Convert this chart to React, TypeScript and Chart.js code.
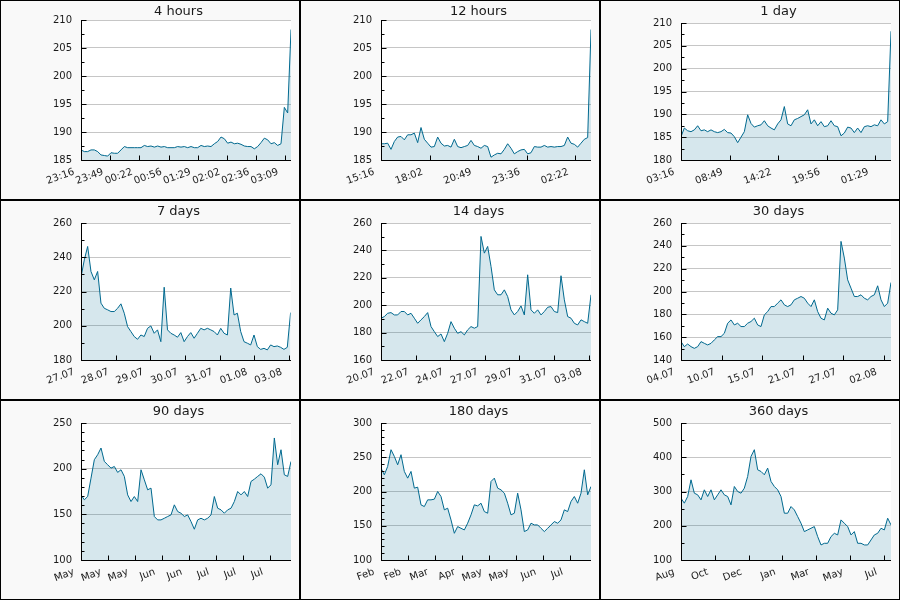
import React, { useEffect, useRef } from 'react';
import { Chart, registerables } from 'chart.js';

Chart.register(...registerables);

// ---------- data ----------
const titles = ['4 hours', '12 hours', '1 day', '7 days', '14 days', '30 days', '90 days', '180 days', '360 days'];

const values4h = [
  186.8, 186.5, 186.5, 186.8, 186.8, 186.5, 185.9, 185.8, 185.7, 186.3,
  186.2, 186.2, 186.8, 187.4, 187.2, 187.2, 187.2, 187.2, 187.2, 187.6,
  187.4, 187.5, 187.3, 187.5, 187.3, 187.4, 187.2, 187.2, 187.2, 187.4,
  187.3, 187.4, 187.2, 187.4, 187.2, 187.2, 187.6, 187.4, 187.5, 187.4,
  187.9, 188.3, 189.1, 188.8, 188.0, 188.2, 187.9, 188.0, 187.8, 187.5,
  187.4, 187.4, 187.0, 187.4, 188.1, 188.9, 188.6, 187.9, 188.1, 187.6,
  187.9, 194.4, 193.4, 208.3,
];
const values12h = [
  187.9, 187.9, 188.0, 186.9, 188.3, 189.1, 189.2, 188.6, 189.5, 189.5,
  189.8, 188.1, 190.8, 188.7, 188.0, 187.3, 187.4, 189.1, 188.0, 187.5,
  187.6, 187.3, 188.7, 187.4, 187.2, 187.4, 187.6, 188.5, 187.6, 187.4,
  187.1, 187.6, 187.4, 185.5, 185.9, 186.2, 186.1, 186.9, 187.9, 187.1,
  186.1, 186.5, 186.8, 186.9, 186.1, 186.3, 187.4, 187.3, 187.3, 187.6,
  187.3, 187.4, 187.3, 187.4, 187.4, 187.6, 189.1, 188.0, 187.8, 187.3,
  188.0, 188.7, 189.0, 208.3,
];
const values1d = [
  185.1, 187.0, 186.4, 186.2, 186.6, 187.5, 186.4, 186.6, 186.2, 186.6,
  186.2, 186.0, 186.2, 186.7, 186.0, 185.9, 185.1, 183.8, 185.0, 186.2,
  189.9, 188.0, 187.2, 187.5, 187.7, 188.6, 187.5, 187.0, 186.6, 187.9,
  188.8, 191.7, 187.9, 187.5, 188.8, 189.1, 189.5, 189.9, 191.0, 187.9,
  188.8, 187.5, 188.4, 187.3, 187.5, 188.6, 187.5, 187.3, 185.3, 185.9,
  187.2, 187.0, 186.0, 187.0, 186.0, 187.3, 187.5, 187.3, 187.7, 187.5,
  188.8, 187.9, 188.4, 208.2,
];
const values7d = [
  228.4, 238.5, 246.3, 231.7, 226.8, 231.7, 213.2, 210.2, 209.3, 208.3,
  208.3, 210.2, 212.8, 207.3, 199.5, 196.6, 193.7, 192.1, 194.6, 193.7,
  198.5, 199.9, 195.6, 197.6, 190.7, 222.5, 197.6, 195.6, 194.6, 193.3,
  196.0, 190.7, 193.7, 196.0, 192.7, 195.6, 198.5, 197.6, 198.5, 197.6,
  196.6, 194.6, 198.5, 195.6, 194.6, 222.0, 206.3, 207.3, 196.6, 190.7,
  189.8, 188.8, 194.6, 187.8, 186.2, 186.8, 185.9, 188.8, 187.8, 188.2,
  187.4, 186.2, 187.4, 207.7,
];
const values14d = [
  190.5, 191.7, 194.1, 194.6, 192.9, 192.9, 195.4, 195.4, 192.9, 194.1,
  190.5, 186.8, 189.3, 191.7, 194.6, 184.4, 180.7, 177.1, 179.0, 173.4,
  179.5, 188.0, 183.2, 179.5, 180.7, 178.3, 182.0, 184.4, 183.2, 184.4,
  250.2, 238.0, 242.9, 228.3, 211.2, 207.6, 207.6, 211.2, 206.3, 196.6,
  192.9, 195.4, 199.5, 192.9, 222.2, 196.6, 194.1, 196.6, 192.9, 195.4,
  198.5, 199.0, 195.4, 194.6, 221.5, 203.9, 191.7, 190.5, 186.8, 185.6,
  189.3, 188.0, 186.8, 207.6,
];
const values30d = [
  156.1, 151.7, 154.0, 151.7, 150.2, 151.7, 156.1, 154.6, 153.2, 154.6,
  157.6, 160.5, 160.5, 163.4, 172.2, 175.1, 170.7, 172.2, 169.3, 169.3,
  172.2, 173.7, 176.6, 170.7, 169.3, 179.5, 182.4, 186.8, 186.8, 189.8,
  192.7, 188.3, 186.8, 188.3, 192.7, 194.1, 195.6, 194.1, 189.8, 186.8,
  192.7, 182.4, 176.6, 175.1, 185.4, 181.0, 179.5, 183.9, 243.9, 229.3,
  210.2, 202.9, 195.6, 195.6, 197.1, 194.1, 192.7, 195.6, 197.1, 205.0,
  192.7, 186.8, 189.8, 207.9,
];
const values90d = [
  171.3, 165.9, 169.5, 189.6, 209.8, 215.3, 222.6, 207.9, 204.3, 200.6,
  202.4, 195.9, 198.8, 191.5, 171.3, 164.0, 169.5, 164.0, 198.8, 187.8,
  176.8, 178.7, 147.6, 143.9, 143.9, 145.7, 147.6, 149.4, 160.4, 153.1,
  151.2, 147.6, 149.4, 142.1, 133.7, 143.9, 145.7, 143.9, 145.7, 149.4,
  169.5, 156.7, 154.9, 151.2, 154.9, 156.7, 164.0, 175.0, 171.3, 175.0,
  169.5, 186.0, 188.5, 191.5, 194.4, 190.7, 178.7, 182.3, 233.6, 204.3,
  220.7, 193.3, 191.5, 207.9,
];
const values180d = [
  234.1, 224.4, 236.6, 261.0, 251.2, 239.0, 253.7, 229.3, 219.5, 229.3,
  204.9, 206.3, 180.5, 178.0, 187.8, 187.8, 188.8, 200.0, 192.7, 173.2,
  175.6, 158.5, 139.0, 148.8, 146.3, 143.9, 153.7, 165.9, 180.5, 179.0,
  182.9, 170.7, 168.3, 214.6, 219.5, 204.9, 202.4, 197.6, 182.9, 165.9,
  168.3, 197.6, 173.2, 141.5, 143.9, 153.7, 151.2, 151.2, 146.3, 141.5,
  146.3, 151.2, 156.1, 153.7, 158.5, 173.2, 170.7, 185.4, 192.7, 182.9,
  197.6, 231.7, 195.1, 207.3,
];
const values360d = [
  280.5, 265.9, 285.4, 334.1, 295.1, 290.2, 275.6, 304.9, 285.4, 304.9,
  275.6, 290.2, 304.9, 290.2, 285.4, 261.0, 314.6, 300.0, 295.1, 309.8,
  343.9, 402.4, 422.0, 363.4, 358.5, 348.8, 368.3, 329.3, 314.6, 304.9,
  285.4, 236.6, 236.6, 256.1, 246.3, 226.8, 207.3, 182.9, 187.8, 192.7,
  197.6, 168.3, 143.9, 148.8, 148.8, 168.3, 178.0, 173.2, 217.1, 207.3,
  197.6, 173.2, 182.9, 148.8, 148.8, 143.9, 143.9, 158.5, 173.2, 178.0,
  192.7, 187.8, 222.0, 202.4,
];

const seriesValues = [values4h, values12h, values1d, values7d, values14d, values30d, values90d, values180d, values360d];

// x tick labels
const ticks4h = ['23:16', '23:49', '00:22', '00:56', '01:29', '02:02', '02:36', '03:09'];
const ticks12h = ['15:16', '18:02', '20:49', '23:36', '02:22'];
const ticks1d = ['03:16', '08:49', '14:22', '19:56', '01:29'];
const ticks7d = ['27.07', '28.07', '29.07', '30.07', '31.07', '01.08', '03.08'];
const ticks14d = ['20.07', '22.07', '24.07', '27.07', '29.07', '31.07', '03.08'];
const ticks30d = ['04.07', '10.07', '15.07', '21.07', '27.07', '02.08'];
const ticks90d = ['May', 'May', 'May', 'Jun', 'Jun', 'Jul', 'Jul', 'Jul'];
const ticks180d = ['Feb', 'Feb', 'Mar', 'Apr', 'May', 'May', 'Jun', 'Jul'];
const ticks360d = ['Aug', 'Oct', 'Dec', 'Jan', 'Mar', 'May', 'Jul'];
const xTickLabels = [ticks4h, ticks12h, ticks1d, ticks7d, ticks14d, ticks30d, ticks90d, ticks180d, ticks360d];

// time span of each series (minutes for the first three, days otherwise) and tick interval
const xSpans = [240, 720, 1440, 7.06, 14.16, 30.2, 90.9, 181.8, 362.7];
const xSteps = [240 / 7.2, 720 / 4.32, 1440 / 4.32, 7 / 6, 14 / 6, 5.83, 11.667, 23.333, 58.333];

// y axis ranges
const yMins = [185, 185, 180, 180, 160, 140, 100, 100, 100];
const yMaxs = [210, 210, 210, 260, 260, 260, 250, 300, 500];
const yMajors = [5, 5, 5, 20, 20, 20, 50, 50, 100];
const yMinors = [2.5, 2.5, 2.5, 10, 10, 10, 10, 10, 50];

// ---------- styling ----------
const LINE = '#00698f';
const FILL = 'rgba(0,105,143,0.16)';
const GRID = '#c6c6c6';
const TEXT = '#1a1a1a';
const FONT = '"DejaVu Sans", "Noto Sans", sans-serif';
const plotTops = [19, 19, 22, 22, 22, 22, 22, 22, 22];

const isMajor = (v: number, major: number) => {
  const r = v / major;
  return Math.abs(r - Math.round(r)) < 1e-6;
};

const decoPlugin = {
  id: 'deco',
  beforeDraw(chart: any) {
    const { ctx, chartArea: a } = chart;
    ctx.save();
    ctx.fillStyle = '#ffffff';
    ctx.fillRect(a.left, a.top, a.right - a.left, a.bottom - a.top);
    ctx.restore();
  },
  afterDatasetsDraw(chart: any) {
    const { ctx, chartArea: a } = chart;
    const o = chart.options.plugins.deco;
    const xs = chart.scales.x;
    const ys = chart.scales.y;
    const L = Math.round(a.left) + 0.5;
    const B = Math.round(a.bottom) + 0.5;
    ctx.save();
    ctx.strokeStyle = '#000';
    ctx.lineWidth = 1;
    ctx.beginPath();
    ctx.moveTo(L, Math.round(a.top));
    ctx.lineTo(L, B);
    ctx.lineTo(Math.round(a.right), B);
    ys.ticks.forEach((t: any) => {
      const y = Math.round(ys.getPixelForValue(t.value)) + 0.5;
      const len = isMajor(t.value, o.major) ? 5 : 3;
      ctx.moveTo(L, y);
      ctx.lineTo(L + len, y);
    });
    xs.ticks.forEach((t: any) => {
      const x = Math.round(xs.getPixelForValue(t.value)) + 0.5;
      ctx.moveTo(x, B);
      ctx.lineTo(x, B - 5);
    });
    ctx.stroke();
    ctx.restore();
  },
  afterDraw(chart: any) {
    const { ctx } = chart;
    const o = chart.options.plugins.deco;
    ctx.save();
    ctx.fillStyle = TEXT;
    ctx.font = `13px ${FONT}`;
    ctx.textAlign = 'center';
    ctx.textBaseline = 'alphabetic';
    ctx.fillText(o.title, 177.5, 14);
    ctx.restore();
  },
};

function Panel({ idx }: { idx: number }) {
  const ref = useRef<HTMLCanvasElement>(null);
  useEffect(() => {
    const vals = seriesValues[idx];
    const span = xSpans[idx];
    const step = xSteps[idx];
    const labels = xTickLabels[idx];
    const n = vals.length;
    const data = vals.map((v, i) => ({ x: (i * span) / (n - 1), y: v }));
    const yMin = yMins[idx];
    const yMax = yMaxs[idx];
    const major = yMajors[idx];
    const minor = yMinors[idx];
    const chart = new Chart(ref.current as HTMLCanvasElement, {
      type: 'line',
      data: {
        datasets: [
          {
            data,
            borderColor: LINE,
            backgroundColor: FILL,
            borderWidth: 1,
            pointRadius: 0,
            fill: 'start',
            tension: 0,
          } as any,
        ],
      },
      options: {
        animation: false,
        responsive: false,
        devicePixelRatio: 1,
        layout: { padding: { left: 0, right: 8, top: plotTops[idx], bottom: 0 } },
        plugins: {
          legend: { display: false },
          tooltip: { enabled: false },
          title: { display: false },
          deco: { title: titles[idx], major },
        } as any,
        scales: {
          x: {
            type: 'linear',
            min: 0,
            max: span,
            afterBuildTicks: (s: any) => {
              s.ticks = labels.map((_, k) => ({ value: k * step }));
            },
            afterFit: (s: any) => {
              s.height = 39;
            },
            grid: { display: false, drawTicks: false },
            border: { display: false },
            ticks: {
              autoSkip: false,
              minRotation: 20,
              maxRotation: 20,
              padding: 6,
              labelOffset: -7,
              color: TEXT,
              font: { family: FONT, size: 10 },
              callback: (_v: any, i: number) => labels[i],
            },
          },
          y: {
            type: 'linear',
            min: yMin,
            max: yMax,
            afterBuildTicks: (s: any) => {
              const t: any[] = [];
              const count = Math.round((yMax - yMin) / minor);
              for (let k = 0; k <= count; k++) t.push({ value: Math.round((yMin + k * minor) * 1000) / 1000 });
              s.ticks = t;
            },
            afterFit: (s: any) => {
              s.width = 80;
            },
            grid: {
              drawTicks: false,
              color: (c: any) => (c.tick && isMajor(c.tick.value, major) ? GRID : 'rgba(0,0,0,0)'),
              lineWidth: 1,
            },
            border: { display: false },
            ticks: {
              autoSkip: false,
              padding: 9,
              color: TEXT,
              font: { family: FONT, size: 10 },
              callback: (v: any) => (isMajor(Number(v), major) ? String(v) : ''),
            },
          },
        },
      } as any,
      plugins: [decoPlugin as any],
    });
    return () => chart.destroy();
  }, [idx]);
  return (
    <div
      style={{
        width: 300,
        height: 200,
        boxSizing: 'border-box',
        border: '1px solid #000',
        background: '#f9f9f9',
      }}
    >
      <canvas ref={ref} width={298} height={198} style={{ display: 'block', width: 298, height: 198 }} />
    </div>
  );
}

export default function App() {
  return (
    <div
      style={{
        position: 'absolute',
        left: 0,
        top: 0,
        width: 900,
        height: 600,
        display: 'grid',
        gridTemplateColumns: '300px 300px 300px',
        gridTemplateRows: '200px 200px 200px',
        background: '#fff',
      }}
    >
      {titles.map((_, i) => (
        <Panel key={i} idx={i} />
      ))}
    </div>
  );
}
